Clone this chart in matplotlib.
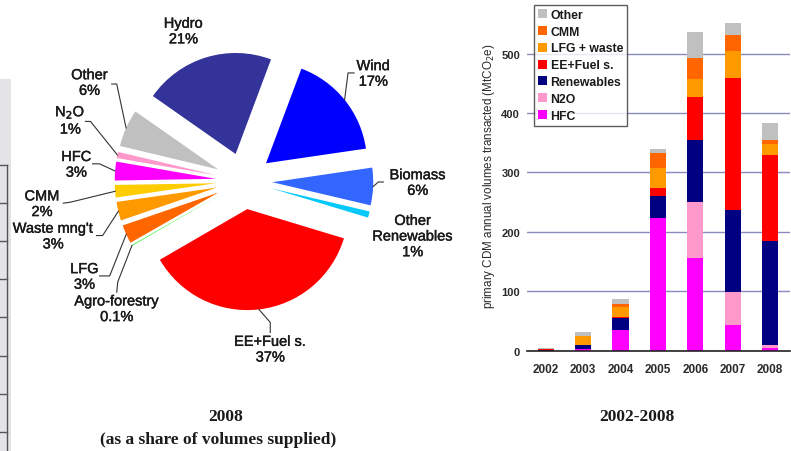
import numpy as np
import matplotlib.pyplot as plt
import matplotlib.patheffects as pe
from matplotlib.patches import Rectangle
from matplotlib.lines import Line2D

plt.rcParams['font.family'] = ['Liberation Sans', 'DejaVu Sans']

# 2008 CDM supply by project type (% of volumes supplied)
pie_names = ['Hydro', 'Wind', 'Biomass', 'Other\nRenewables', 'EE+Fuel s.',
             'Agro-forestry', 'LFG', "Waste mng't", 'CMM', 'HFC', 'N$_2$O', 'Other']
pie_shares = [21, 17, 6, 1, 37, 0.1, 3, 3, 2, 3, 1, 6]
pie_colors = ['#333399', '#0000FF', '#3366FF', '#00C8F8', '#FF0000', '#00EE00',
              '#FF6600', '#FF9900', '#FFCC00', '#FF00FF', '#FF99CC', '#C0C0C0']

# label text centre, leader knee and leader end (pie radius units); None = no leader
pie_text_pos = [(-0.60, 1.48), (1.28, 1.06), (1.72, -0.02), (1.67, -0.55),
                (0.26, -1.67), (-1.26, -1.27), (-1.58, -0.95), (-1.89, -0.55),
                (-2.00, -0.23), (-1.66, 0.16), (-1.72, 0.60), (-1.53, 0.97)]
pie_knees = [None, (1.03, 1.07), (1.33, -0.01), None,
             (0.26, -1.40), (-1.25, -1.00), (-1.33, -0.94), (-1.40, -0.54),
             (-1.72, -0.21), (-1.43, 0.17), (-1.52, 0.59), (-1.26, 0.96)]
pie_ends = [None, (1.09, 1.07), (1.38, -0.01), None,
            (0.26, -1.50), (-1.26, -1.10), (-1.43, -0.94), (-1.46, -0.54),
            (-1.79, -0.22), (-1.50, 0.17), (-1.57, 0.59), (-1.31, 0.96)]

# primary CDM annual volumes transacted (MtCO2e), 2002-2008
years = ['2002', '2003', '2004', '2005', '2006', '2007', '2008']
hfc = [0, 3, 35, 223, 156, 44, 4]
n2o = [0, 0, 0, 0, 94, 54, 5.6]
renewables = [2, 7, 19.5, 38, 105, 139, 175]
ee_fuel = [1.5, 0, 2, 13, 72, 222, 144]
lfg_waste = [0, 15, 17.5, 33, 30, 45, 19]
cmm = [0, 0, 5, 25, 35, 27, 7]
other = [0.5, 7, 8, 8, 45, 20, 28]

bar_series = [('HFC', hfc, '#FF00FF'), ('N2O', n2o, '#FF99CC'),
              ('Renewables', renewables, '#000080'), ('EE+Fuel s.', ee_fuel, '#FF0000'),
              ('LFG + waste', lfg_waste, '#FF9900'), ('CMM', cmm, '#FF6600'),
              ('Other', other, '#C0C0C0')]

W, H = 791, 452
fig = plt.figure(figsize=(W / 100, H / 100), dpi=100)
txt = '#1a1a1a'
thick = [pe.withStroke(linewidth=0.3, foreground=txt)]

# grey panel edge on the far left
fig.add_artist(Rectangle((0, 0), 11 / W, (H - 80) / H, transform=fig.transFigure,
                         facecolor='#E4E4E6', edgecolor='none'))
fig.add_artist(Line2D([7 / W, 7 / W], [0, (H - 166) / H], transform=fig.transFigure,
                      color='#555555', lw=1))
for yp in [166, 204, 242, 280, 318, 357, 395, 433]:
    fig.add_artist(Line2D([0, 7 / W], [(H - yp) / H] * 2, transform=fig.transFigure,
                          color='#555555', lw=1))

# ---- pie ----
r_px = 101
cx, cy = 244, 182
ax_pie = fig.add_axes([(cx - 220) / W, (H - cy - 180) / H, 440 / W, 360 / H])
explode = [0.28] * len(pie_shares)
wedges, _ = ax_pie.pie(pie_shares, colors=pie_colors, explode=explode, startangle=145,
                       counterclock=False, radius=1, wedgeprops=dict(linewidth=0))
ax_pie.set_xlim(-220 / r_px, 220 / r_px)
ax_pie.set_ylim(-180 / r_px, 180 / r_px)
ax_pie.axis('off')

for w, name, share, tp, knee, end, ex in zip(wedges, pie_names, pie_shares, pie_text_pos,
                                             pie_knees, pie_ends, explode):
    ax_pie.text(tp[0], tp[1], f'{name}\n{share:g}%', ha='center', va='center',
                fontsize=10.5, color=txt, linespacing=1.15, path_effects=thick)
    if knee is None:
        continue
    mid = np.deg2rad((w.theta1 + w.theta2) / 2)
    anchor = ((1 + ex) * np.cos(mid), (1 + ex) * np.sin(mid))
    ax_pie.plot([anchor[0], knee[0], end[0]], [anchor[1], knee[1], end[1]],
                color='#333333', lw=0.8)

fig.text(226 / W, 1 - 417 / H, '2008', ha='center', va='center', family='Liberation Serif',
         fontsize=12.5, fontweight='bold', color=txt)
fig.text(218 / W, 1 - 440 / H, '(as a share of volumes supplied)', ha='center', va='center',
         family='Liberation Serif', fontsize=12.5, fontweight='bold', color=txt)

# ---- stacked bars ----
ax_bar = fig.add_axes([527 / W, (H - 351.7) / H, 263 / W, 351.7 / H])
x = np.arange(len(years))
bottom = np.zeros(len(years))
handles = {}
for name, vals, col in bar_series:
    vals = np.array(vals, dtype=float)
    handles[name] = ax_bar.bar(x, vals, 0.43, bottom=bottom, color=col, linewidth=0, zorder=3)
    bottom += vals

ax_bar.set_ylim(0, 592)
ax_bar.set_xlim(-0.5, 6.53)
ax_bar.set_yticks([0, 100, 200, 300, 400, 500])
ax_bar.set_xticks(x, years)
ax_bar.grid(axis='y', color='#8A8ABF', lw=1, zorder=0)
for s in ['top', 'right', 'left']:
    ax_bar.spines[s].set_visible(False)
ax_bar.spines['bottom'].set_color('#222222')
ax_bar.spines['bottom'].set_linewidth(1.2)
ax_bar.spines['bottom'].set_zorder(4)
ax_bar.tick_params(axis='y', length=0, pad=5, labelsize=8, labelcolor='#2a2a2a')
ax_bar.tick_params(axis='x', length=0, pad=9, labelsize=8.5, labelcolor='#2a2a2a')
for lab in ax_bar.get_xticklabels() + ax_bar.get_yticklabels():
    lab.set_fontweight('bold')
ax_bar.set_ylabel('primary CDM annual volumes transacted (MtCO$_2$e)', fontsize=8.4,
                  color='#2a2a2a', labelpad=3)

order = ['Other', 'CMM', 'LFG + waste', 'EE+Fuel s.', 'Renewables', 'N2O', 'HFC']
leg = ax_bar.legend([handles[n] for n in order], order, loc='upper left',
                    bbox_to_anchor=(0.027, 0.983), frameon=True,
                    prop={'size': 8.8, 'weight': 'bold'},
                    fancybox=False, edgecolor='#333333', handlelength=0.75,
                    handleheight=0.75, handletextpad=0.3, labelspacing=0.4,
                    borderpad=0.3, borderaxespad=0)
leg.get_frame().set_linewidth(1)
for t in leg.get_texts():
    t.set_color(txt)

fig.text(637 / W, 1 - 417 / H, '2002-2008', ha='center', va='center',
         family='Liberation Serif', fontsize=12.5, fontweight='bold', color=txt)

fig.savefig('out.png', dpi=100)
